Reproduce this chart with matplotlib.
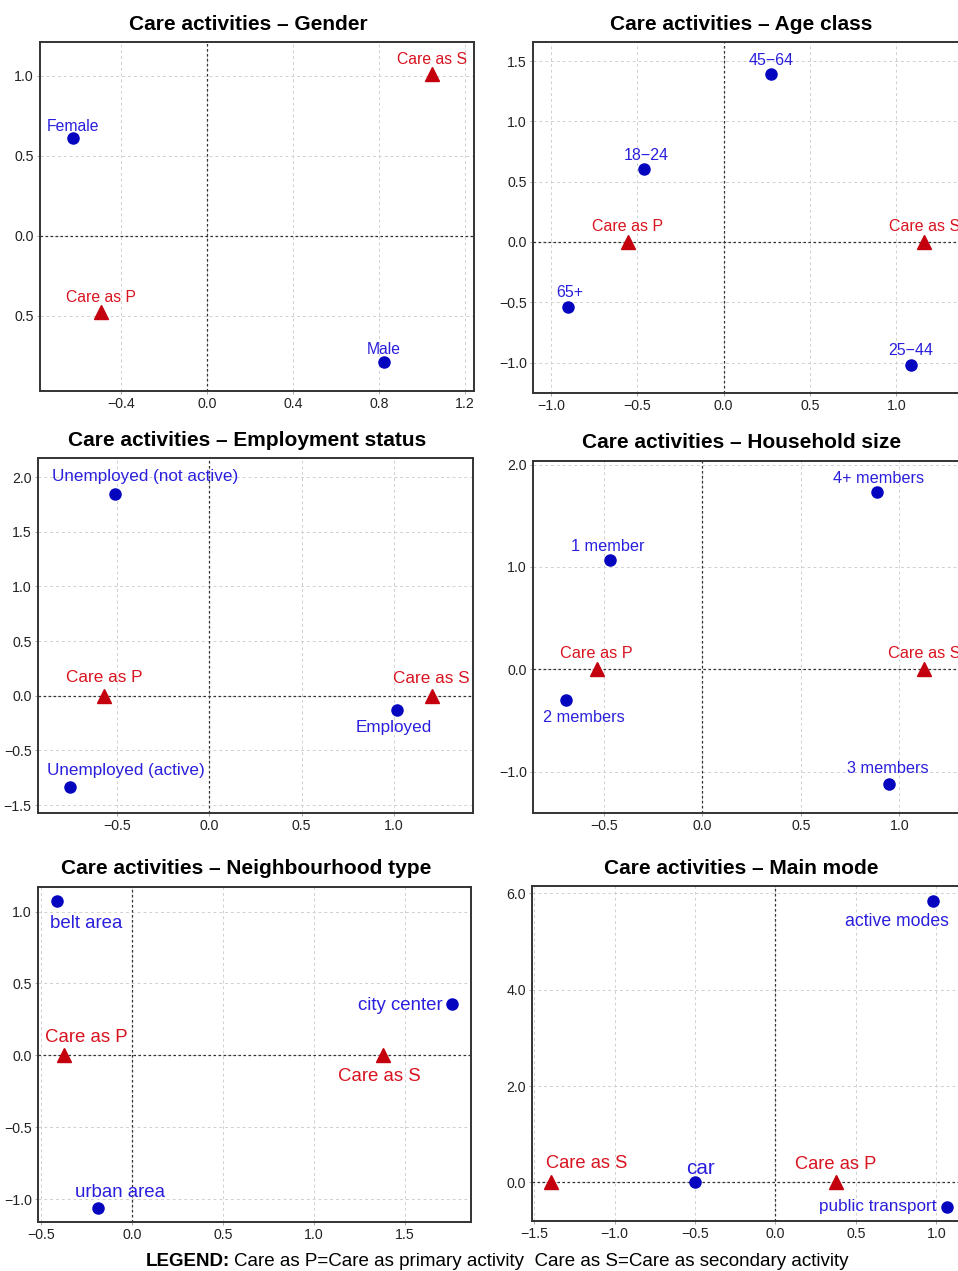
import matplotlib
matplotlib.use('Agg')
import matplotlib.pyplot as plt

plt.rcParams['font.family'] = ['Liberation Sans', 'DejaVu Sans']

W, H = 958, 1271

titles = ['Care activities – Gender', 'Care activities – Age class',
          'Care activities – Employment status', 'Care activities – Household size',
          'Care activities – Neighbourhood type', 'Care activities – Main mode']

# row categories (blue circles)
gender_cats = ['Female', 'Male']
gender_x = [-0.625, 0.825]
gender_y = [0.61, -0.787]
age_cats = ['45−64', '18−24', '65+', '25−44']
age_x = [0.273, -0.459, -0.904, 1.083]
age_y = [1.395, 0.605, -0.539, -1.023]
emp_cats = ['Unemployed (not active)', 'Employed', 'Unemployed (active)']
emp_x = [-0.512, 1.015, -0.754]
emp_y = [1.848, -0.134, -0.835]
hh_cats = ['4+ members', '1 member', '2 members', '3 members']
hh_x = [0.885, -0.47, -0.695, 0.946]
hh_y = [1.733, 1.068, -0.303, -1.124]
nb_cats = ['belt area', 'city center', 'urban area']
nb_x = [-0.412, 1.758, -0.187]
nb_y = [1.076, 0.358, -1.06]
mode_cats = ['active modes', 'car', 'public transport']
mode_x = [0.978, -0.5, 1.063]
mode_y = [5.85, 0.0, -0.50]

# column categories (red triangles): Care as P, Care as S
care_cats = ['Care as P', 'Care as S']
gender_care_x = [-0.494, 1.048]
gender_care_y = [-0.475, 1.01]
age_care_x = [-0.551, 1.162]
age_care_y = [0.0, 0.0]
emp_care_x = [-0.572, 1.206]
emp_care_y = [0.0, 0.0]
hh_care_x = [-0.536, 1.125]
hh_care_y = [0.0, 0.0]
nb_care_x = [-0.375, 1.381]
nb_care_y = [0.0, 0.0]
mode_care_x = [0.378, -1.398]
mode_care_y = [0.0, 0.0]

# ---- layout / style ----
boxes = [(40, 42, 474, 391), (533, 42, 967, 393),
         (38, 458, 473, 813), (533, 461, 967, 813),
         (38, 887, 471, 1222), (532, 886, 967, 1221)]
xlims = [(-0.777, 1.242), (-1.104, 1.41), (-0.929, 1.429),
         (-0.861, 1.344), (-0.516, 1.863), (-1.513, 1.19)]
ylims = [(-0.97, 1.21), (-1.252, 1.658), (-1.073, 2.175),
         (-1.405, 2.036), (-1.16, 1.171), (-0.80, 6.155)]
xticks = [[-0.4, 0.0, 0.4, 0.8, 1.2], [-1.0, -0.5, 0.0, 0.5, 1.0],
          [-0.5, 0.0, 0.5, 1.0], [-0.5, 0.0, 0.5, 1.0],
          [-0.5, 0.0, 0.5, 1.0, 1.5], [-1.5, -1.0, -0.5, 0.0, 0.5, 1.0]]
yticks = [[-0.5, 0.0, 0.5, 1.0], [-1.0, -0.5, 0.0, 0.5, 1.0, 1.5],
          [-1.0, -0.5, 0.0, 0.5, 1.0, 1.5, 2.0], [-1.0, 0.0, 1.0, 2.0],
          [-1.0, -0.5, 0.0, 0.5, 1.0], [0.0, 2.0, 4.0, 6.0]]
ytick_labels = [['0.5', '0.0', '0.5', '1.0'], None,
                ['−1.5', '−0.5', '0.0', '0.5', '1.0', '1.5', '2.0'], None, None, None]

# label offsets in pixels (dx, dy up) for rows and care points
row_off = [[(0, 13), (-1, 14)],
           [(0, 15), (1.5, 15), (2, 16), (0, 16)],
           [(30, 19), (-3, -16), (56, 18)],
           [(2, 15), (-2, 15), (18, -16), (-1, 17)],
           [(29, -21), (-52, 0), (22, 17)],
           [(-36, -19), (5, 15), (-69, 1)]]
care_off = [[(0, 16), (0, 16)], [(-1, 17), (0, 17)], [(0, 20), (-1, 19)],
            [(-1, 17), (0, 17)], [(23, 19), (-4, -20)], [(-1, 19), (36, 20)]]
row_fs = [11.3, 11.5, 12.3, 11.7, 13.4, [12.7, 14.9, 12.3]]
care_fs = [11.3, 11.5, 12.3, 11.7, 13.4, 13.2]

rows = [(gender_cats, gender_x, gender_y), (age_cats, age_x, age_y),
        (emp_cats, emp_x, emp_y), (hh_cats, hh_x, hh_y),
        (nb_cats, nb_x, nb_y), (mode_cats, mode_x, mode_y)]
cares = [(gender_care_x, gender_care_y), (age_care_x, age_care_y),
         (emp_care_x, emp_care_y), (hh_care_x, hh_care_y),
         (nb_care_x, nb_care_y), (mode_care_x, mode_care_y)]

BLUE_TXT = '#2a1fdc'
BLUE_MK = '#0505c0'
RED_TXT = '#d81420'
RED_MK = '#c4000e'


def fmt(v):
    return ('%.1f' % v).replace('-', '−')


fig = plt.figure(figsize=(W / 100, H / 100), dpi=100)

for k in range(6):
    l, t, r, b = boxes[k]
    ax = fig.add_axes([l / W, 1 - b / H, (r - l) / W, (b - t) / H])
    ax.set_xlim(*xlims[k])
    ax.set_ylim(*ylims[k])
    ax.set_xticks(xticks[k])
    ax.set_xticklabels([fmt(v) for v in xticks[k]])
    ax.set_yticks(yticks[k])
    if ytick_labels[k] is not None:
        ax.set_yticklabels(ytick_labels[k])
    else:
        ax.set_yticklabels([fmt(v) for v in yticks[k]])
    ax.tick_params(labelsize=10.2, length=2.5, width=0.6, color='#999999',
                   labelcolor='#222222', pad=2)
    ax.grid(True, color='#d0d0d0', linestyle=(0, (3, 3)), linewidth=0.7)
    ax.set_axisbelow(True)
    for sp in ax.spines.values():
        sp.set_color('#333333')
        sp.set_linewidth(1.4)
    ax.axhline(0, color='#333333', linestyle=(0, (2, 2)), linewidth=0.9, zorder=1)
    ax.axvline(0, color='#333333', linestyle=(0, (2, 2)), linewidth=0.9, zorder=1)
    ax.set_title(titles[k], fontsize=15, fontweight='bold', pad=9, x=0.48)

    cats, xs, ys = rows[k]
    ax.plot(xs, ys, 'o', color=BLUE_MK, markersize=8, zorder=3, clip_on=False)
    for i, c in enumerate(cats):
        dx, dy = row_off[k][i]
        fs = row_fs[k][i] if isinstance(row_fs[k], list) else row_fs[k]
        ax.annotate(c, (xs[i], ys[i]), xytext=(dx * 0.72, dy * 0.72 - 1),
                    textcoords='offset points', ha='center', va='center',
                    color=BLUE_TXT, fontsize=fs)

    cx, cy = cares[k]
    ax.plot(cx, cy, '^', color=RED_MK, markersize=10, zorder=3, clip_on=False)
    for i, c in enumerate(care_cats):
        dx, dy = care_off[k][i]
        ax.annotate(c, (cx[i], cy[i]), xytext=(dx * 0.72, dy * 0.72 - 1),
                    textcoords='offset points', ha='center', va='center',
                    color=RED_TXT, fontsize=care_fs[k])

fig.text(230 / W, 1 - 1261 / H, 'LEGEND:', fontsize=13.5, fontweight='bold',
         ha='right', va='center')
fig.text(234 / W, 1 - 1261 / H,
         'Care as P=Care as primary activity  Care as S=Care as secondary activity',
         fontsize=13.5, ha='left', va='center')

fig.savefig('out.png', dpi=100)
